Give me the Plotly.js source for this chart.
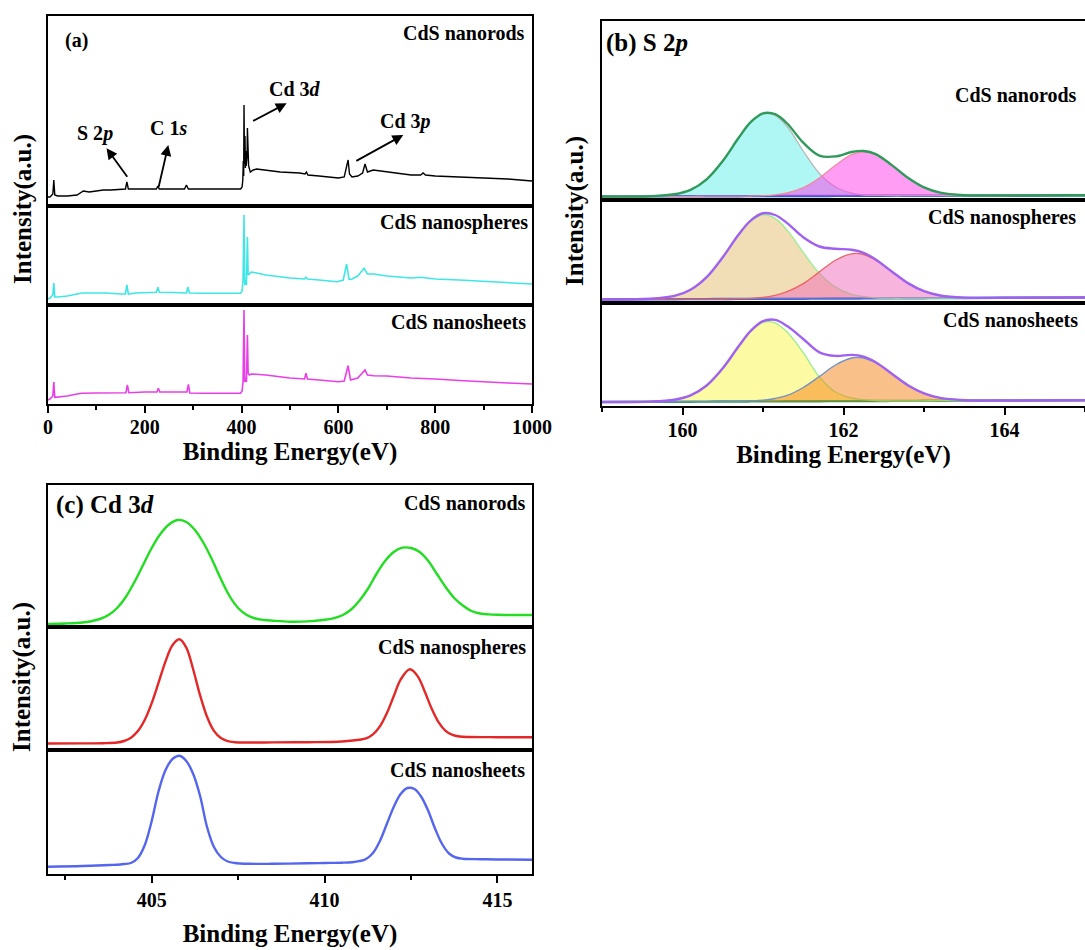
<!DOCTYPE html>
<html><head><meta charset="utf-8">
<script src="https://cdn.plot.ly/plotly-3.0.1.min.js"></script>
<style>html,body{margin:0;padding:0;background:#fff;} #chart{width:1085px;height:950px;}</style>
</head><body><div id="chart"></div>
<script>
// ---------- Panel (a): XPS survey spectra (binding energy eV, intensity a.u.) ----------
const rodsSurveyX = [0, 4, 10, 12, 14, 20, 40, 60, 73, 85, 100, 114, 130, 156, 160, 163, 166, 180, 200, 224, 227, 230, 260, 282, 286, 290, 320, 360, 398, 401, 402.5, 403.5, 404.3, 405, 406, 407, 407.8, 408.5, 409.5, 410.5, 411.3, 412, 413, 414.5, 418, 424, 431, 450, 480, 520, 531, 534, 537, 560, 600, 612, 617, 620, 623, 628, 640, 650, 655, 660, 672, 700, 750, 770, 775, 780, 800, 850, 900, 950, 1000];
const rodsSurveyY = [9, 9, 12, 26, 11, 10, 10, 11, 15, 14, 15, 16, 16, 17, 17, 24, 17, 17, 17, 17, 20, 17, 17, 17, 21, 17, 17, 17, 17, 19, 26, 45, 30, 101, 42, 70, 38, 55, 40, 48, 50, 78, 48, 40, 34, 36, 37, 36, 34, 33, 32, 34, 31, 30, 28, 29, 38, 46, 32, 29, 30, 33, 42, 34, 36, 34, 31, 31, 33, 31, 30, 29, 28, 27, 25];

const spheresSurveyX = [0, 4, 10, 12, 14, 20, 40, 60, 70, 80, 100, 109, 120, 150, 160, 163, 166, 180, 200, 224, 227, 230, 260, 286, 289, 292, 320, 360, 398, 401, 403, 405, 406.5, 408, 410, 412, 413.5, 416, 420, 429, 450, 500, 530, 533, 536, 560, 597, 610, 617, 622, 628, 640, 653, 660, 673, 700, 750, 770, 780, 800, 850, 900, 950, 1000];
const spheresSurveyY = [6, 7, 10, 22, 8, 8, 9, 11, 12, 12, 12, 12.5, 12, 11, 11, 20, 11, 12, 12.5, 12.7, 17.7, 12.7, 12.5, 12, 17.7, 12, 11.7, 11.7, 11.7, 14, 25, 90, 20, 25, 20, 68, 30, 31, 33, 32.3, 30, 27, 26, 27.7, 26, 25, 23.3, 25, 41, 25.7, 26, 29, 36.7, 31, 31, 29, 27, 27.7, 27, 26, 25, 23.5, 22, 21];

const sheetsSurveyX = [0, 4, 10, 12, 14, 20, 40, 60, 70, 100, 120, 150, 161, 164, 167, 200, 225, 228, 231, 260, 287, 290, 293, 320, 398, 401, 403, 405, 406.5, 408, 410, 412, 413.5, 416, 420, 430, 450, 500, 530, 533, 536, 560, 600, 612, 620, 625, 640, 655, 660, 673, 700, 750, 775, 800, 850, 900, 950, 1000];
const sheetsSurveyY = [4, 5, 8, 22, 6.7, 7, 8, 10, 10.7, 11, 11, 11.3, 11.3, 19, 11.3, 12, 12, 15.7, 12, 12, 12, 19.7, 11, 10.7, 10.7, 13, 22, 94, 22, 26, 22, 69, 31, 29, 30, 29.7, 29, 26, 25, 30.7, 25, 24, 22.3, 23, 38.3, 24, 26, 34, 29, 28.3, 28, 26, 25.7, 25, 23.5, 22, 21, 20];

// ---------- Panel (b): S 2p fitted spectra ----------
const s2pX = [159.0, 159.6, 159.9, 160.1, 160.3, 160.5, 160.7, 160.85, 161.0, 161.15, 161.3, 161.5, 161.7, 161.9, 162.1, 162.25, 162.4, 162.6, 162.8, 163.0, 163.2, 163.5, 164.0, 165.0];
const rodsS2pBg    = [3.5, 3.6, 3.7, 3.7, 3.8, 3.8, 3.8, 3.9, 3.9, 3.9, 4.0, 4.0, 4.0, 4.1, 4.1, 4.2, 4.2, 4.2, 4.3, 4.3, 4.3, 4.4, 4.5, 4.7];
const rodsS2pPeak1 = [3.5, 3.8, 5.7, 10.1, 20.7, 39.0, 62.5, 78.0, 86.3, 84.6, 73.5, 49.0, 26.5, 13.0, 6.8, 5.0, 4.7, 4.3, 4.3, 4.3, 4.3, 4.4, 4.5, 4.7];
const rodsS2pPeak2 = [3.5, 3.6, 3.7, 3.7, 3.8, 3.8, 3.8, 4.0, 4.3, 5.1, 7.0, 12.3, 21.9, 34.7, 45.3, 48.2, 45.4, 34.8, 22.2, 12.6, 7.3, 4.8, 4.5, 4.7];
const rodsS2pSum   = [3.5, 3.8, 5.7, 10.1, 20.7, 39.0, 62.5, 78.1, 86.7, 85.8, 76.5, 57.3, 44.4, 43.6, 48.0, 49.0, 45.9, 34.9, 22.2, 12.6, 7.3, 4.8, 4.5, 4.7];

const spheresS2pBg    = [3.5, 3.7, 3.8, 3.9, 3.9, 4.0, 4.1, 4.1, 4.2, 4.2, 4.3, 4.3, 4.4, 4.5, 4.5, 4.6, 4.6, 4.7, 4.8, 4.8, 4.9, 5.0, 5.2, 5.5];
const spheresS2pPeak1 = [3.5, 4.2, 7.1, 13.3, 25.9, 45.8, 68.6, 82.0, 88.2, 84.6, 72.9, 50.6, 29.8, 15.9, 8.6, 6.3, 5.2, 4.8, 4.8, 4.8, 4.9, 5.0, 5.2, 5.5];
const spheresS2pPeak2 = [3.5, 3.7, 3.8, 3.9, 3.9, 4.0, 4.3, 4.7, 5.7, 7.6, 11.3, 19.4, 31.1, 42.8, 49.2, 48.5, 42.9, 31.4, 19.9, 11.8, 7.5, 5.4, 5.2, 5.5];
const spheresS2pSum   = [3.5, 4.2, 7.1, 13.3, 25.9, 45.8, 68.8, 82.6, 89.7, 88.0, 79.9, 65.7, 56.5, 54.2, 53.3, 50.2, 43.5, 31.5, 19.9, 11.8, 7.5, 5.4, 5.2, 5.5];

const sheetsS2pBg    = [4.0, 4.2, 4.3, 4.3, 4.4, 4.5, 4.5, 4.6, 4.6, 4.6, 4.7, 4.8, 4.8, 4.9, 4.9, 5.0, 5.0, 5.1, 5.1, 5.2, 5.3, 5.4, 5.5, 5.8];
const sheetsS2pPeak1 = [4.0, 4.4, 6.3, 10.6, 20.5, 37.7, 59.8, 74.8, 83.6, 83.2, 74.0, 53.3, 29.0, 14.0, 8.0, 6.3, 5.5, 5.2, 5.1, 5.2, 5.3, 5.4, 5.5, 5.8];
const sheetsS2pPeak2 = [4.0, 4.2, 4.3, 4.3, 4.4, 4.5, 4.7, 5.1, 5.8, 7.5, 10.6, 18.5, 29.5, 41.0, 48.0, 48.0, 43.2, 32.2, 20.8, 12.6, 8.1, 5.8, 5.5, 5.8];
const sheetsS2pSum   = [4.0, 4.4, 6.3, 10.6, 20.5, 37.7, 60.0, 75.3, 84.8, 86.1, 79.9, 67.0, 53.7, 50.1, 51.1, 49.3, 43.7, 32.3, 20.8, 12.6, 8.1, 5.8, 5.5, 5.8];

// ---------- Panel (c): Cd 3d spectra ----------
const rodsCdX = [402.0, 402.5, 403.0, 403.25, 403.5, 403.75, 404.0, 404.25, 404.5, 404.75, 405.0, 405.25, 405.5, 405.75, 406.0, 406.25, 406.5, 406.75, 407.0, 407.25, 407.5, 407.75, 408.0, 408.25, 408.5, 409.0, 409.5, 410.0, 410.25, 410.5, 410.75, 411.0, 411.25, 411.5, 411.75, 412.0, 412.25, 412.5, 412.75, 413.0, 413.25, 413.5, 413.75, 414.0, 414.25, 414.5, 414.75, 415.0, 415.5, 416.0];
const rodsCdY = [3, 3.5, 4.5, 5.8, 8, 12, 19, 30, 45, 62, 79, 93, 102.5, 107, 105, 97, 84, 67, 48, 31, 19, 12, 8.5, 7, 6.3, 5.3, 5.6, 7.2, 8.7, 11.5, 17, 26, 38, 53, 66, 75, 79.3, 79, 75, 66, 53, 40, 29, 21.5, 16, 13.5, 12.6, 12.2, 12, 12];

const spheresCdX = [402.0, 403.0, 403.6, 404.0, 404.2, 404.4, 404.6, 404.8, 405.0, 405.2, 405.4, 405.6, 405.8, 406.0, 406.2, 406.4, 406.6, 406.8, 407.0, 407.2, 407.4, 407.8, 408.5, 409.5, 410.5, 411.0, 411.2, 411.4, 411.6, 411.8, 412.0, 412.2, 412.47, 412.7, 412.9, 413.1, 413.3, 413.5, 413.7, 413.9, 414.2, 415.0, 416.0];
const spheresCdY = [6.5, 6.6, 6.8, 7.5, 9.0, 12.3, 18.9, 30.2, 46.9, 67.6, 88.7, 104.7, 110.7, 102.4, 80.5, 54.6, 33.2, 19.1, 11.9, 8.8, 7.8, 7.5, 7.6, 7.8, 8.5, 10.3, 11.6, 15.6, 23.6, 36.7, 53.7, 70.4, 80.7, 73.4, 58.2, 41.2, 27.6, 19.2, 15.1, 13.5, 13, 12.8, 12.7];

const sheetsCdX = [402.0, 403.0, 403.8, 404.0, 404.2, 404.4, 404.6, 404.8, 405.0, 405.2, 405.4, 405.6, 405.8, 406.0, 406.2, 406.4, 406.6, 406.8, 407.0, 407.2, 407.4, 407.8, 408.5, 409.5, 410.0, 410.5, 410.8, 411.0, 411.2, 411.4, 411.6, 411.8, 412.0, 412.2, 412.4, 412.6, 412.8, 413.0, 413.2, 413.4, 413.6, 413.8, 414.0, 414.5, 415.0, 416.0];
const sheetsCdY = [7.3, 8, 9, 9.3, 10, 11, 16, 29, 53, 83, 104, 115, 118.3, 113, 100, 78, 47, 27, 17, 12.5, 11, 10.2, 10.2, 10.7, 11, 11.3, 11.8, 12.8, 15, 21, 33, 50, 67, 80, 86, 85, 77, 63, 45, 30, 20.5, 16.5, 15.3, 14.8, 14.5, 14.3];

// ---------- tick values / labels ----------
const surveyTicks = [0, 200, 400, 600, 800, 1000];
const s2pTicks = [160, 162, 164];
const cdTicks = [405, 410, 415];
const sampleNames = ['CdS nanorods', 'CdS nanospheres', 'CdS nanosheets'];

// ---------- styling helpers ----------
const FONT = 'Liberation Serif, Times New Roman, serif';
const W = 1085, H = 950;
const px = v => v / W;
const py = v => 1 - v / H;

function line(x, y, xa, ya, color, width, shape, extra) {
  return Object.assign({type: 'scatter', mode: 'lines', x: x, y: y, xaxis: xa, yaxis: ya,
    line: {color: color, width: width, shape: shape || 'linear', smoothing: 1}, hoverinfo: 'skip'}, extra || {});
}

const traces = [];
// panel (a)
traces.push(line(rodsSurveyX, rodsSurveyY, 'x', 'y', '#000000', 1.4));
traces.push(line(spheresSurveyX, spheresSurveyY, 'x2', 'y2', '#3fe6e6', 1.6));
traces.push(line(sheetsSurveyX, sheetsSurveyY, 'x3', 'y3', '#e83fe8', 1.6));

// panel (b)
function s2pSet(xa, ya, bg, p1, p2, sum, bgColor, c1, f1, c2, f2, sumColor) {
  traces.push(line(s2pX, bg, xa, ya, bgColor, 2.4, 'spline'));
  traces.push(line(s2pX, p1, xa, ya, c1, 1.3, 'spline', {fill: 'tonexty', fillcolor: f1}));
  traces.push(line(s2pX, bg, xa, ya, 'rgba(0,0,0,0)', 0, 'spline'));
  traces.push(line(s2pX, p2, xa, ya, c2, 1.3, 'spline', {fill: 'tonexty', fillcolor: f2}));
  traces.push(line(s2pX, sum, xa, ya, sumColor, 2.4, 'spline'));
}
s2pSet('x4', 'y4', rodsS2pBg, rodsS2pPeak1, rodsS2pPeak2, rodsS2pSum, '#2f5fd0',
  '#b8b8b8', 'rgba(95,240,236,0.5)', '#f08aa0', 'rgba(255,60,235,0.5)', '#2f9a5a');
s2pSet('x5', 'y5', spheresS2pBg, spheresS2pPeak1, spheresS2pPeak2, spheresS2pSum, '#3070d8',
  '#9aee90', 'rgba(230,190,110,0.5)', '#ee6262', 'rgba(240,105,185,0.5)', '#a060f0');
s2pSet('x6', 'y6', sheetsS2pBg, sheetsS2pPeak1, sheetsS2pPeak2, sheetsS2pSum, '#3c9c50',
  '#9aee90', 'rgba(250,245,70,0.5)', '#7090c8', 'rgba(245,130,20,0.5)', '#a060f0');

// panel (c)
traces.push(line(rodsCdX, rodsCdY, 'x7', 'y7', '#22dd22', 2.4, 'spline'));
traces.push(line(spheresCdX, spheresCdY, 'x8', 'y8', '#e42828', 2.4, 'spline'));
traces.push(line(sheetsCdX, sheetsCdY, 'x9', 'y9', '#5566ee', 2.4, 'spline'));

// axes
const dom = {
  a: {x: [px(48), px(532)], y: [[py(206), py(16)], [py(305), py(206)], [py(404), py(305)]], h: [190, 99, 99]},
  b: {x: [px(602), 1], y: [[py(200), py(21)], [py(303), py(200)], [py(406), py(303)]], h: [179, 103, 103]},
  c: {x: [px(48), px(532)], y: [[py(627), py(485)], [py(750), py(627)], [py(874), py(750)]], h: [142, 123, 124]}
};
const tickFont = {family: FONT, size: 20, color: '#000', weight: 'bold'};
const titleFont = {family: FONT, size: 25, color: '#000', weight: 'bold'};

const layout = {
  width: W, height: H, margin: {l: 0, r: 0, t: 0, b: 0},
  paper_bgcolor: '#fff', plot_bgcolor: '#fff', showlegend: false,
  font: {family: FONT, color: '#000'},
  annotations: [], hovermode: false
};
function setAxes(panel, startIdx, range, ticks, minorDtick, labelShift, titleStandoff) {
  const d = dom[panel];
  for (let i = 0; i < 3; i++) {
    const n = startIdx + i;
    const xk = n === 1 ? 'xaxis' : 'xaxis' + n;
    const yk = n === 1 ? 'yaxis' : 'yaxis' + n;
    const xa = {
      domain: d.x, range: range, anchor: n === 1 ? 'y' : 'y' + n,
      showline: true, mirror: true, linecolor: '#000', linewidth: 2,
      showgrid: false, zeroline: false, fixedrange: true
    };
    if (i === 2) {
      Object.assign(xa, {
        ticks: 'outside', ticklen: 7, tickwidth: 2, tickcolor: '#000',
        tickmode: 'array', tickvals: ticks, ticktext: ticks.map(String), tickfont: tickFont,
        ticklabelstandoff: labelShift,
        minor: {dtick: minorDtick, tick0: ticks[0], ticks: 'outside', ticklen: 4, tickwidth: 2, tickcolor: '#000', showgrid: false},
        title: {text: 'Binding Energy(eV)', font: titleFont, standoff: titleStandoff}
      });
    } else {
      Object.assign(xa, {ticks: '', showticklabels: false});
    }
    layout[xk] = xa;
    layout[yk] = {
      domain: d.y[i], range: [0, d.h[i]], anchor: n === 1 ? 'x' : 'x' + n,
      showline: true, mirror: true, linecolor: '#000', linewidth: 2,
      ticks: '', showticklabels: false, showgrid: false, zeroline: false, fixedrange: true
    };
  }
}
setAxes('a', 1, [0, 1000], surveyTicks, 100, -3, 5);
setAxes('b', 4, [159, 165], s2pTicks, 1, -2, 5);
setAxes('c', 7, [402, 416], cdTicks, 2.5, 0, 14);

function txt(text, x, y, xanchor, size, extra) {
  layout.annotations.push(Object.assign({
    text: text, xref: 'paper', yref: 'paper', x: px(x), y: py(y),
    xanchor: xanchor, yanchor: 'middle', showarrow: false,
    font: {family: FONT, size: size, color: '#000', weight: 'bold'}
  }, extra || {}));
}
// panel labels
txt('(a)', 63, 41, 'left', 20);
txt('(b) S 2<i>p</i>', 604, 43, 'left', 25);
txt('(c) Cd 3<i>d</i>', 54, 505, 'left', 25);
// sample names
txt(sampleNames[0], 527, 33, 'right', 20);
txt(sampleNames[1], 530, 222, 'right', 20);
txt(sampleNames[2], 528, 322, 'right', 20);
txt(sampleNames[0], 1079, 95, 'right', 20);
txt(sampleNames[1], 1078, 217, 'right', 20);
txt(sampleNames[2], 1080, 320, 'right', 20);
txt(sampleNames[0], 528, 503, 'right', 20);
txt(sampleNames[1], 528, 647, 'right', 20);
txt(sampleNames[2], 527, 770, 'right', 20);
// y titles
txt('Intensity(a.u.)', 23, 209, 'center', 25, {textangle: -90});
txt('Intensity(a.u.)', 575, 211, 'center', 25, {textangle: -90});
txt('Intensity(a.u.)', 22, 677, 'center', 25, {textangle: -90});
// peak labels in survey
txt('S 2<i>p</i>', 95, 133, 'center', 20);
txt('C 1<i>s</i>', 168, 128, 'center', 20);
txt('Cd 3<i>d</i>', 295, 89, 'center', 20);
txt('Cd 3<i>p</i>', 405, 121, 'center', 20);
// arrows (data coords of survey top panel): head at (x,y), tail at (ax,ay)
function arrow(x, y, ax, ay) {
  layout.annotations.push({xref: 'x', yref: 'y', axref: 'x', ayref: 'y', x: x, y: y, ax: ax, ay: ay,
    text: '', showarrow: true, arrowhead: 2, arrowsize: 1.2, arrowwidth: 1.8, arrowcolor: '#000', standoff: 0, startstandoff: 0});
}
arrow(121, 57.7, 166, 27.7);
arrow(248.6, 61, 228, 17.7);
arrow(493, 102.7, 420.8, 84.3);
arrow(734, 71, 634, 44.3);

Plotly.newPlot('chart', traces, layout, {displayModeBar: false, staticPlot: true});
</script></body></html>
